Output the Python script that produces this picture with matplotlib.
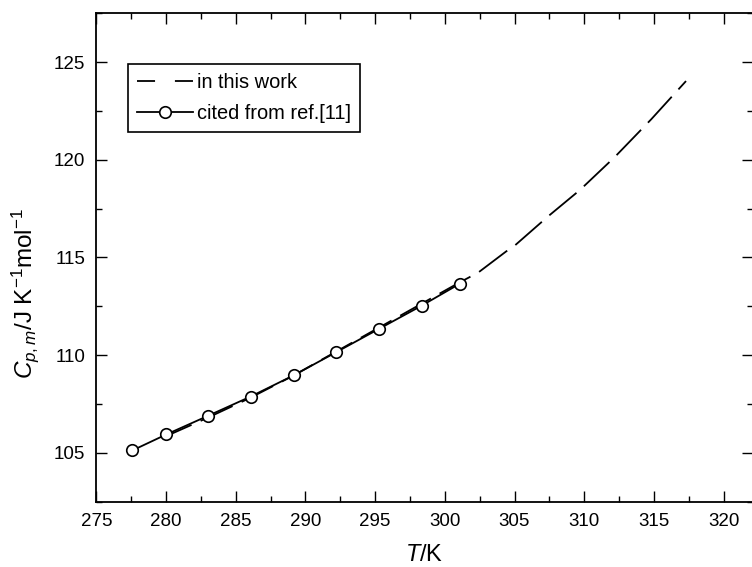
import matplotlib
matplotlib.use("Agg")
import matplotlib.pyplot as plt
from matplotlib.lines import Line2D
from matplotlib.ticker import MultipleLocator

plt.rcParams['font.family'] = ['Liberation Sans', 'DejaVu Sans']
plt.rcParams['mathtext.fontset'] = 'custom'
plt.rcParams['mathtext.rm'] = 'Liberation Sans'
plt.rcParams['mathtext.it'] = 'Liberation Sans:italic'

# data
T_work = [280, 283, 286, 289, 292, 295, 298, 301, 302.4, 304.4, 305.0,
          307.4, 309.7, 312.2, 314.8, 317.3]
cp_work = [105.85, 106.8, 107.8, 108.9, 110.1, 111.3, 112.5, 113.7, 114.23,
           115.31, 115.6, 117.1, 118.46, 120.15, 122.07, 124.03]

T_ref = [277.58, 280.02, 283.0, 286.07, 289.17, 292.23, 295.29, 298.33, 301.08]
cp_ref = [105.12, 105.94, 106.89, 107.88, 108.97, 110.16, 111.35, 112.53, 113.66]

labels = ['in this work', 'cited from ref.[11]']

fig = plt.figure(figsize=(7.52, 5.67), dpi=100)
ax = fig.add_axes([0.128, 0.1152, 0.8727, 0.8614])

lw = 1.3
ax.plot(T_work, cp_work, color='black', lw=lw, ls=(4, (19.5, 5.5)), zorder=2)
ax.plot(T_ref, cp_ref, color='black', lw=lw, marker='o', ms=8.3,
        mfc='white', mec='black', mew=1.2, zorder=3)

ax.set_xlim(275, 322.07)
ax.set_ylim(102.5, 127.5)
ax.xaxis.set_major_locator(MultipleLocator(5))
ax.xaxis.set_minor_locator(MultipleLocator(2.5))
ax.yaxis.set_major_locator(MultipleLocator(5))
ax.yaxis.set_minor_locator(MultipleLocator(2.5))
ax.tick_params(which='both', direction='in', top=True, right=True,
               labelsize=13.5, width=1.0, pad=8)
ax.tick_params(which='major', length=8)
ax.tick_params(which='minor', length=4)
for s in ax.spines.values():
    s.set_linewidth(1.3)

ax.set_xlabel(r'$T$/K', fontsize=17, labelpad=10)
ax.set_ylabel(r'$C_{p,m}$/J K$^{-1}$mol$^{-1}$', fontsize=17.5)
ax.yaxis.set_label_coords(-0.084, 0.427)

h1 = Line2D([], [], color='black', lw=lw, ls=(0, (10, 11)))
h2 = Line2D([], [], color='black', lw=lw, marker='o', ms=8.3,
            mfc='white', mec='black', mew=1.2)
leg = ax.legend([h1, h2], labels, loc='upper left',
                bbox_to_anchor=(0.048, 0.896), borderaxespad=0,
                fontsize=14.4, handlelength=2.8, handletextpad=0.2,
                labelspacing=0.6, borderpad=0.45, fancybox=False,
                framealpha=1, edgecolor='black')
leg.get_frame().set_linewidth(1.2)

fig.savefig('out.png', dpi=100)
